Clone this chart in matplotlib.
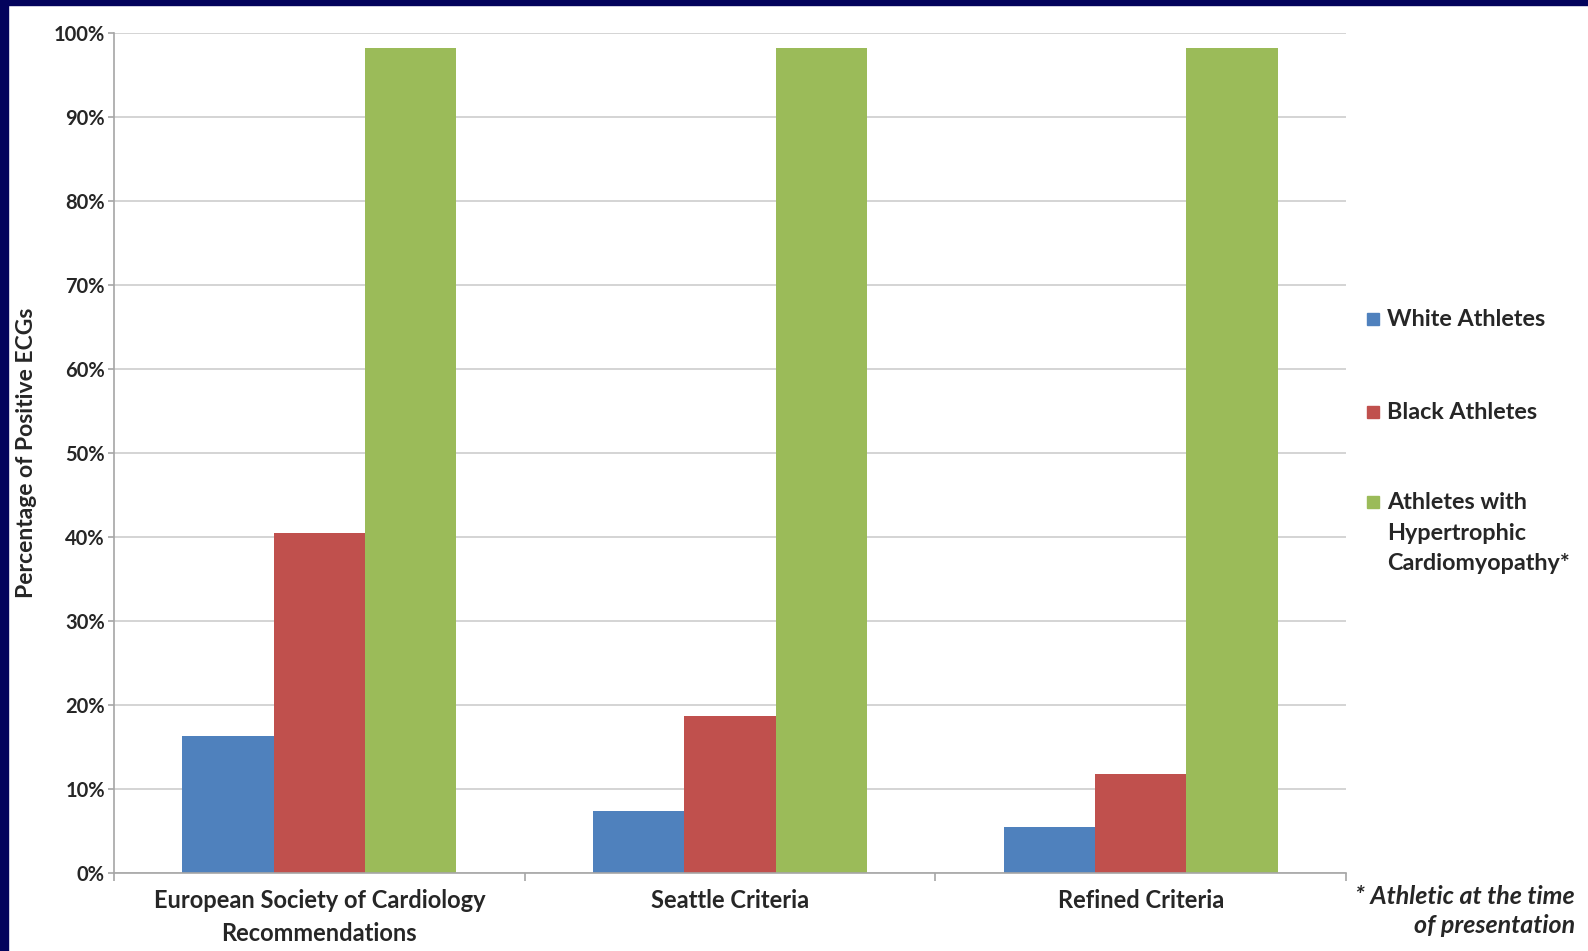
import numpy as np
import matplotlib.pyplot as plt
from matplotlib.patches import Rectangle

plt.rcParams['font.family'] = ['Lato', 'DejaVu Sans']

categories = ['European Society of Cardiology\nRecommendations', 'Seattle Criteria', 'Refined Criteria']
series_names = ['White Athletes', 'Black Athletes', 'Athletes with\nHypertrophic\nCardiomyopathy*']
white = [16.3, 7.3, 5.5]
black = [40.5, 18.7, 11.7]
hcm = [98.3, 98.3, 98.3]
yticks = [0, 10, 20, 30, 40, 50, 60, 70, 80, 90, 100]
colors = ['#4F81BD', '#C0504D', '#9BBB59']
txt = '#262626'

W, H = 1588, 951
fig = plt.figure(figsize=(W / 100, H / 100), dpi=100)
fig.patch.set_facecolor('white')

# navy slide frame on the left and top
fig.patches.append(Rectangle((0, 0), 8 / W, 1, transform=fig.transFigure, color='#03035C', zorder=0))
fig.patches.append(Rectangle((0, 1 - 5 / H), 1, 5 / H, transform=fig.transFigure, color='#03035C', zorder=0))

x0, x1 = 114 / W, 1346 / W
y0, y1 = 1 - 872.7 / H, 1 - 33.3 / H
ax = fig.add_axes([x0, y0, x1 - x0, y1 - y0])

n = len(series_names)
width = 1 / (n + 1.5)
x = np.arange(len(categories))
for i, vals in enumerate([white, black, hcm]):
    ax.bar(x + (i - 1) * width, vals, width, color=colors[i], zorder=2, linewidth=0)

ax.set_xlim(-0.5, len(categories) - 0.5)
ax.set_ylim(0, 100)
ax.set_yticks(yticks)
ax.set_yticklabels(['%d%%' % v for v in yticks], fontsize=14.5, fontweight='bold', color=txt)
ax.yaxis.grid(True, color='#D4D4D4', linewidth=1.4, zorder=0)
ax.set_axisbelow(True)

# category labels, ticks sit on group boundaries
ax.set_xticks(np.arange(len(categories) + 1) - 0.5)
ax.set_xticklabels([])
ax.tick_params(axis='x', length=6, color='#A6A6A6', width=1.2)
ax.tick_params(axis='y', length=4.5, color='#A6A6A6', width=1.2, pad=2)
for i, c in enumerate(categories):
    ax.text(i, -2.0, c, ha='center', va='top', fontsize=17, fontweight='bold',
            color=txt, linespacing=1.5)

for s in ['top', 'right']:
    ax.spines[s].set_visible(False)
for s in ['left', 'bottom']:
    ax.spines[s].set_color('#A6A6A6')
    ax.spines[s].set_linewidth(1.2)

ax.set_ylabel('Percentage of Positive ECGs', fontsize=16.5, fontweight='bold', color=txt, labelpad=12)

# legend drawn at the right of the plot
leg_y = [319, 412, 502]
for i, name in enumerate(series_names):
    yc = 1 - leg_y[i] / H
    fig.patches.append(Rectangle((1367 / W, yc - 6 / H), 12 / W, 12 / H,
                                 transform=fig.transFigure, color=colors[i]))
    fig.text(1387 / W, yc + 10 / H, name, ha='left', va='top', fontsize=16.8,
             fontweight='bold', color=txt, linespacing=1.56)

fig.text(1575 / W, 1 - 885 / H, '* Athletic at the time\nof presentation', ha='right', va='top',
         fontsize=18, fontweight='bold', fontstyle='italic', color=txt, linespacing=1.3)

fig.savefig('out.png', dpi=100)
